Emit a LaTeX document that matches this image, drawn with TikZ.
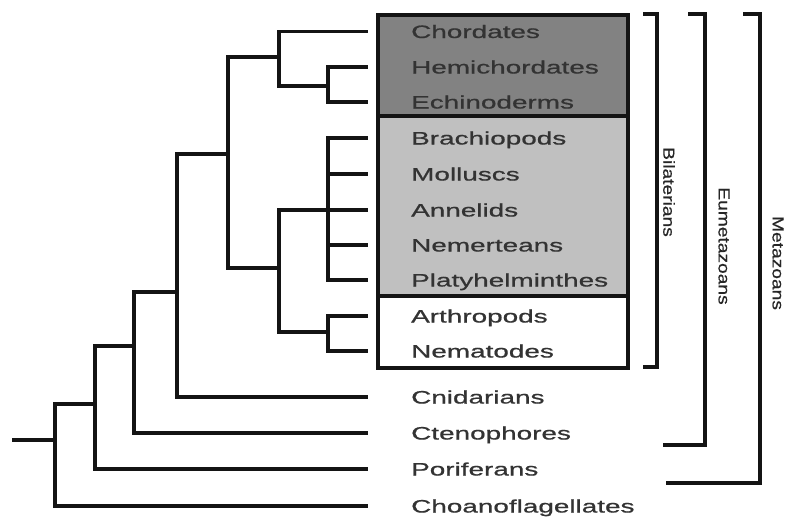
\documentclass[tikz,border=0pt]{standalone}
\usepackage{fontspec}
\setmainfont{Liberation Sans}
\newfontfamily\leaffont[FakeStretch=1.55,FakeBold=0.8]{Liberation Sans}
\newfontfamily\cladefont[FakeStretch=1.2,FakeBold=0.5]{Liberation Sans}
\definecolor{darkbox}{RGB}{130,130,130}
\definecolor{lightbox}{RGB}{192,192,192}
\definecolor{inkc}{RGB}{20,20,20}
\begin{document}
\begin{tikzpicture}[x=1pt,y=-1pt,
  branch/.style={draw=inkc,line width=3.2pt,line cap=rect,line join=miter},
  frame/.style={draw=inkc,line width=3.2pt},
  leaf/.style={anchor=base west,inner sep=0pt,text=black!80,font=\leaffont\fontsize{18}{20}\selectfont},
  clade/.style={rotate=-90,inner sep=0pt,text=black!85,font=\cladefont\fontsize{16}{18}\selectfont}]
\useasboundingbox (0,0) rectangle (789,520);
% boxes
\path[fill=darkbox] (378,15) rectangle (628,116);
\path[fill=lightbox] (378,116) rectangle (628,296);
\draw[frame] (378,15) rectangle (628,368);
\draw[frame] (378,116) -- (628,116);
\draw[frame] (378,296) -- (628,296);
% leaf labels
\foreach \nm/\yy/\txt in {chord/31.5/Chordates, hemi/67/Hemichordates, echi/102/Echinoderms,
  brach/138/Brachiopods, moll/174/Molluscs, anne/210/Annelids, neme/245/Nemerteans,
  platy/280/Platyhelminthes, arth/316/Arthropods, nemat/351/Nematodes,
  cnid/397/Cnidarians, cten/433/Ctenophores, pori/469/Poriferans, choa/506/Choanoflagellates}{
  \node[leaf] (\nm) at (411,\yy+6.5) {\txt};
  \coordinate (\nm-e) at (366,\yy);
}
% internal nodes
\coordinate (hemiechi) at (328,86);
\coordinate (deut) at (279,57);
\coordinate (lopho) at (328,210);
\coordinate (ecdy) at (328,332);
\coordinate (proto) at (279,268);
\coordinate (bilat) at (228,154);
\coordinate (eum) at (177,292);
\coordinate (par) at (134,346);
\coordinate (met) at (95,404);
\coordinate (root) at (55,440);
\coordinate (stem) at (14,440);
% branches
\draw[branch] (hemiechi) |- (hemi-e);
\draw[branch] (hemiechi) |- (echi-e);
\draw[branch] (deut) |- (chord-e);
\draw[branch] (deut) |- (hemiechi);
\foreach \c in {brach,moll,anne,neme,platy}{\draw[branch] (lopho) |- (\c-e);}
\draw[branch] (ecdy) |- (arth-e);
\draw[branch] (ecdy) |- (nemat-e);
\draw[branch] (proto) |- (lopho);
\draw[branch] (proto) |- (ecdy);
\draw[branch] (bilat) |- (deut);
\draw[branch] (bilat) |- (proto);
\draw[branch] (eum) |- (bilat);
\draw[branch] (eum) |- (cnid-e);
\draw[branch] (par) |- (eum);
\draw[branch] (par) |- (cten-e);
\draw[branch] (met) |- (par);
\draw[branch] (met) |- (pori-e);
\draw[branch] (root) |- (met);
\draw[branch] (root) |- (choa-e);
\draw[branch] (stem) -- (root);
% brackets
\draw[frame] (643,14) -- (657,14) -- (657,367) -- (643,367);
\draw[frame] (688,14) -- (705,14) -- (705,445) -- (663,445);
\draw[frame] (743,14) -- (760,14) -- (760,483) -- (666,483);
\node[clade] (bil) at (669,192) {Bilaterians};
\node[clade] (eumlab) at (724,246) {Eumetazoans};
\node[clade] (metlab) at (778,263) {Metazoans};
\end{tikzpicture}
\end{document}
